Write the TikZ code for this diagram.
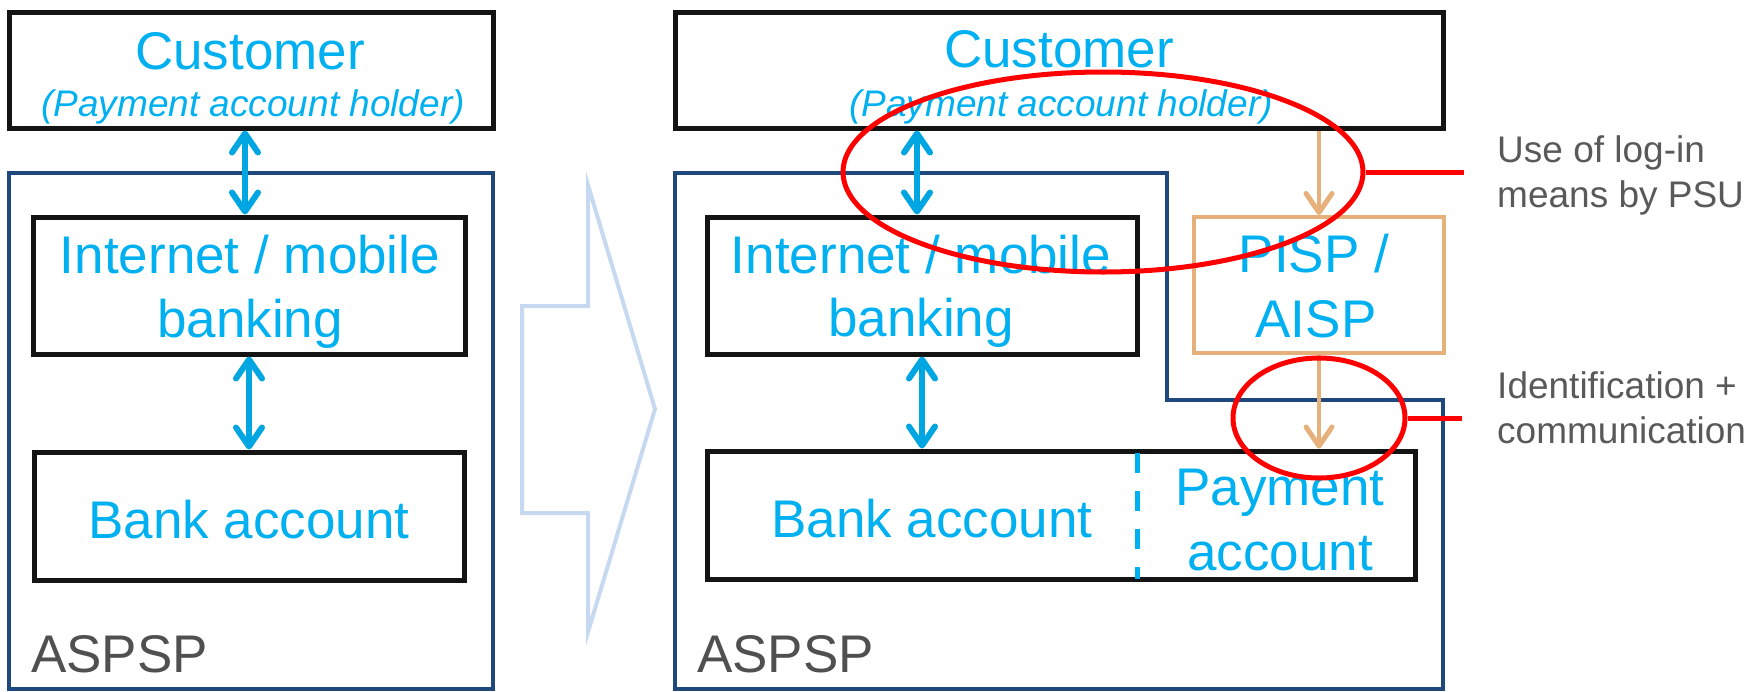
\documentclass[tikz,border=0pt]{standalone}
\usepackage{fontspec}
\setmainfont{Liberation Sans}
\usetikzlibrary{arrows.meta,shapes.geometric}
\definecolor{txtcyan}{HTML}{00B0F0}
\definecolor{arrblue}{HTML}{00A6E2}
\definecolor{aspspblue}{HTML}{1F497D}
\definecolor{tpporange}{HTML}{E6B07A}
\definecolor{bigarrow}{HTML}{C6D9F1}
\definecolor{grayA}{HTML}{505050}
\definecolor{grayB}{HTML}{595959}
\definecolor{hlred}{HTML}{FF0000}
\tikzset{
  blk/.style={draw=black!92, line width=5pt, rectangle, inner sep=0pt},
  orbox/.style={draw=tpporange, line width=4pt, rectangle, inner sep=0pt},
  outl/.style={draw=aspspblue, line width=4pt, line join=miter},
  barrow/.style={draw=arrblue, line width=5.5pt, {Straight Barb[length=19pt,width=26pt,round,line width=6pt]}-{Straight Barb[length=19pt,width=26pt,round,line width=6pt]}},
  oarrow/.style={draw=tpporange, line width=4.5pt, -{Straight Barb[length=19pt,width=26pt,round,line width=5pt]}},
  big/.style={font=\fontsize{53}{64}\selectfont, text=txtcyan, inner sep=0pt, anchor=base},
  sub/.style={font=\fontsize{37}{44}\selectfont\itshape, text=txtcyan, inner sep=0pt, anchor=base},
  asp/.style={font=\fontsize{53}{64}\selectfont, text=grayA, inner sep=0pt, anchor=base west},
  note/.style={font=\fontsize{37}{45}\selectfont, text=grayB, inner sep=0pt, anchor=base west},
  hl/.style={draw=hlred, line width=5pt, ellipse, inner sep=0pt},
  hlline/.style={draw=hlred, line width=5pt},
}
\begin{document}
\begin{tikzpicture}[x=1pt,y=-1pt]
\useasboundingbox (0,0) rectangle (1754,691);
% ---- big hollow arrow
\draw[draw=bigarrow, line width=4pt, line join=miter]
  (522,306) -- (588,306) -- (588,185) -- (655,409) -- (588,632) -- (588,513) -- (522,513) -- cycle;
% ================= LEFT PANEL
\draw[outl] (9,173) rectangle (493,689);
\node[blk, minimum width=484pt, minimum height=116pt] (c1) at (251,70) {};
\node[blk, minimum width=432pt, minimum height=137pt] (i1) at (249,285.5) {};
\node[blk, minimum width=430pt, minimum height=128pt] (b1) at (249,516) {};
\node[big] (c1t) at (250,69) {Customer};
\node[sub] (c1s) at (253,116) {(Payment account holder)};
\node[big] (i1t) at (250,273) {Internet / mobile};
\node[big] (i1u) at (250,337) {banking};
\node[big] (b1t) at (249,538) {Bank account};
\node[asp] (a1) at (31,672) {ASPSP};
\draw[barrow] ([xshift=-6pt]c1.south) -- ([xshift=-4pt]i1.north);
\draw[barrow] (i1.south) -- (b1.north);
% ================= RIGHT PANEL
\draw[outl] (675,173) -- (1167,173) -- (1167,400) -- (1443,400) -- (1443,689) -- (675,689) -- cycle;
\node[blk, minimum width=768pt, minimum height=116pt] (c2) at (1059,70) {};
\node[blk, minimum width=430pt, minimum height=137pt] (i2) at (922,285.5) {};
\node[orbox, minimum width=250pt, minimum height=136pt] (p2) at (1319,285) {};
\node[blk, minimum width=708pt, minimum height=128pt] (b2) at (1061,515) {};
\coordinate (dtop) at (1137,453);
\coordinate (dbot) at (1137,579);
\draw[draw=txtcyan, line width=5pt, dash pattern=on 20pt off 18pt] (dtop) -- (dbot);
\node[big] (c2t) at (1059,67) {Customer};
\node[sub] (c2s) at (1061,116) {(Payment account holder)};
\node[big] (i2t) at (921,273) {Internet / mobile};
\node[big] (i2u) at (921,336) {banking};
\node[big] (p2t) at (1314,272) {PISP /};
\node[big] (p2u) at (1316,337) {AISP};
\node[big] (b2t) at (932,537) {Bank account};
\node[big] (b2p) at (1280,505) {Payment};
\node[big] (b2q) at (1280,570) {account};
\node[asp] (a2) at (697,672) {ASPSP};
\draw[barrow] ([xshift=-142pt]c2.south) -- ([xshift=-5pt]i2.north);
\draw[barrow] (i2.south) -- ([xshift=-139pt]b2.north);
\draw[oarrow] (c2.south -| p2.north) -- (p2.north);
\draw[oarrow] (p2.south) -- (b2.north -| p2.south);
% ================= HIGHLIGHTS
\node[hl, minimum width=520pt, minimum height=200pt] (e1) at (1103,172) {};
\node[hl, minimum width=172pt, minimum height=120pt] (e2) at (1319,418) {};
\coordinate (l1) at (1464,172);
\coordinate (l2) at (1462,418);
\draw[hlline] (e1.east) -- (l1);
\draw[hlline] (e2.east) -- (l2);
\node[note] (n1a) at (1497,162) {Use of log-in};
\node[note] (n1b) at (1497,207) {means by PSU};
\node[note] (n2a) at (1497,398) {Identification +};
\node[note] (n2b) at (1497,443) {communication};
\end{tikzpicture}
\end{document}
